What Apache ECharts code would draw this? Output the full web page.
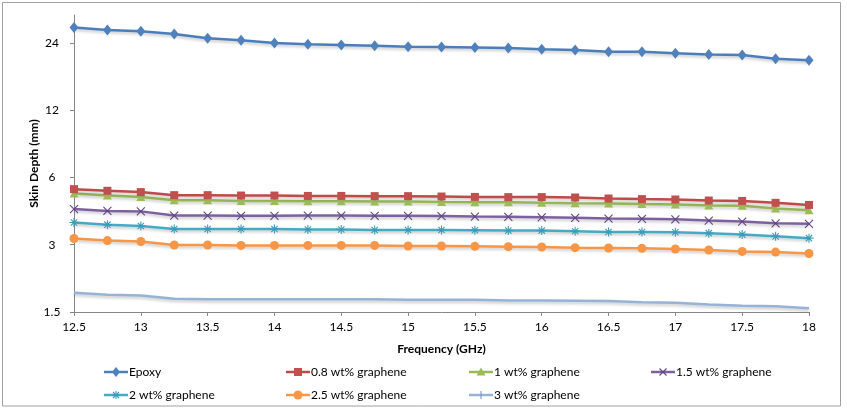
<!DOCTYPE html>
<html>
<head>
<meta charset="utf-8">
<script src="https://cdn.jsdelivr.net/npm/echarts@6/dist/echarts.min.js"></script>
<style>html,body{margin:0;padding:0;background:#fff}#c{width:847px;height:414px}</style>
</head>
<body>
<div id="c"></div>
<script>
var frequencies = [12.5,12.75,13,13.25,13.5,13.75,14,14.25,14.5,14.75,15,15.25,15.5,15.75,16,16.25,16.5,16.75,17,17.25,17.5,17.75,18];
var xTicks = [12.5,13,13.5,14,14.5,15,15.5,16,16.5,17,17.5,18];
var yTicks = [1.5,3,6,12,24];
var seriesNames = ['Epoxy','0.8 wt% graphene','1 wt% graphene','1.5 wt% graphene','2 wt% graphene','2.5 wt% graphene','3 wt% graphene'];
var epoxy = [28.1,27.4,27.1,26.3,25.2,24.7,24.0,23.7,23.5,23.3,23.1,23.0,22.9,22.8,22.5,22.3,21.9,21.9,21.6,21.3,21.2,20.4,20.1];
var g08 = [5.32,5.23,5.16,5.00,5.00,4.98,4.98,4.96,4.96,4.95,4.95,4.93,4.91,4.90,4.90,4.88,4.83,4.80,4.78,4.73,4.71,4.62,4.52];
var g1 = [5.09,4.98,4.91,4.75,4.75,4.71,4.71,4.70,4.70,4.68,4.68,4.66,4.65,4.65,4.62,4.60,4.59,4.56,4.54,4.49,4.48,4.36,4.28];
var g15 = [4.33,4.25,4.23,4.05,4.05,4.04,4.04,4.05,4.05,4.04,4.04,4.03,4.01,4.00,3.98,3.96,3.93,3.92,3.90,3.85,3.81,3.74,3.72];
var g2 = [3.77,3.69,3.64,3.53,3.53,3.53,3.53,3.51,3.51,3.49,3.49,3.49,3.48,3.47,3.47,3.45,3.42,3.42,3.41,3.38,3.33,3.27,3.21];
var g25 = [3.20,3.13,3.10,2.99,2.99,2.98,2.98,2.98,2.98,2.98,2.96,2.96,2.95,2.94,2.93,2.91,2.90,2.89,2.87,2.84,2.80,2.78,2.74];
var g3 = [1.83,1.79,1.78,1.72,1.71,1.71,1.71,1.71,1.71,1.71,1.70,1.70,1.70,1.69,1.69,1.685,1.68,1.66,1.65,1.62,1.60,1.59,1.56];

var allData = [epoxy,g08,g1,g15,g2,g25,g3];
var lineColors = ['#4A7EBB','#BE4B48','#98B954','#7D60A0','#46AAC5','#F79646','#95B3D7'];
var markColors = ['#4F81BD','#C0504D','#9BBB59','#5F4680','#3A9CB8','#F79646','#7894C0'];
var symbols = ['diamond','rect','triangle',
  'path://M0,0L10,10M10,0L0,10',
  'path://M0,5L10,5M5,0L5,10M1.5,1.5L8.5,8.5M8.5,1.5L1.5,8.5',
  'circle',
  'path://M5,0L5,10'];
var sizes = [[9,11],8,[9,8],8,9,9,[2,9]];
var strokeOnly = [false,false,false,true,true,false,true];

var font = 'Lato, "Liberation Sans", sans-serif';
var series = allData.map(function(d,i){
  return {
    name: seriesNames[i],
    type: 'line',
    data: frequencies.map(function(f,j){return [f,d[j]];}),
    symbol: symbols[i],
    symbolSize: sizes[i],
    showSymbol: true,
    lineStyle: {color: lineColors[i], width: 2.5, shadowColor:'rgba(0,0,0,0.22)', shadowBlur:3, shadowOffsetY:2},
    itemStyle: strokeOnly[i] ? {color: 'rgba(0,0,0,0)', borderColor: markColors[i], borderWidth: 1.1} : {color: markColors[i], borderWidth: 0},
    emphasis: {disabled: true},
    animation: false,
    z: 10 - i
  };
});

// legend drawn as graphic elements (layout of the legend box only)
var legendCols = [104,286,469,651];
var legendRows = [372,395];
function seg(x1,y1,x2,y2,c){ return {type:'line', shape:{x1:x1,y1:y1,x2:x2,y2:y2}, style:{stroke:c, lineWidth:1.1}}; }
function legendSymbol(i, cx, cy){
  var c = markColors[i];
  switch(i){
    case 0: return [{type:'polygon', shape:{points:[[cx,cy-5],[cx+4,cy],[cx,cy+5],[cx-4,cy]]}, style:{fill:c}}];
    case 1: return [{type:'rect', shape:{x:cx-4,y:cy-4,width:8,height:8}, style:{fill:c}}];
    case 2: return [{type:'polygon', shape:{points:[[cx,cy-4.5],[cx+4.5,cy+3.5],[cx-4.5,cy+3.5]]}, style:{fill:c}}];
    case 3: return [seg(cx-3.5,cy-3.5,cx+3.5,cy+3.5,c), seg(cx+3.5,cy-3.5,cx-3.5,cy+3.5,c)];
    case 4: return [seg(cx-4,cy,cx+4,cy,c), seg(cx,cy-4,cx,cy+4,c), seg(cx-3,cy-3,cx+3,cy+3,c), seg(cx+3,cy-3,cx-3,cy+3,c)];
    case 5: return [{type:'circle', shape:{cx:cx,cy:cy,r:4.5}, style:{fill:c}}];
    default: return [seg(cx,cy-4,cx,cy+4,c)];
  }
}
var legendGraphics = [];
seriesNames.forEach(function(n,i){
  var x0 = legendCols[i % 4], y0 = legendRows[Math.floor(i / 4)];
  legendGraphics.push({type:'line', shape:{x1:x0,y1:y0,x2:x0+24,y2:y0}, style:{stroke:lineColors[i], lineWidth:2.5}, silent:true, z:100});
  legendSymbol(i, x0+12, y0).forEach(function(s){ s.silent = true; s.z = 101; legendGraphics.push(s); });
  legendGraphics.push({type:'text', x:x0+25, y:y0, style:{text:n, fill:'#000', font:'12px ' + font, verticalAlign:'middle', align:'left'}, silent:true, z:100});
});

var chart = echarts.init(document.getElementById('c'), null, {renderer: 'canvas'});
chart.setOption({
  backgroundColor: '#fff',
  animation: false,
  textStyle: {fontFamily: font},
  graphic: [{type:'rect', shape:{x:2.5,y:2.5,width:838,height:403.5}, style:{fill:'none', stroke:'#a0a0a0', lineWidth:1}, silent:true}].concat(legendGraphics),
  grid: {left: 74, right: 38, top: 15, bottom: 102},
  xAxis: {
    type: 'value', min: 12.5, max: 18, interval: 0.5,
    name: 'Frequency (GHz)', nameLocation: 'middle', nameGap: 31,
    nameTextStyle: {fontFamily: font, fontSize: 12, fontWeight: 'bold', color: '#000'},
    axisLine: {show: true, lineStyle: {color: '#868686', width: 1}},
    axisTick: {show: true, length: 4, inside: false, lineStyle: {color: '#868686'}, customValues: xTicks},
    axisLabel: {fontFamily: font, fontSize: 12, color: '#000', margin: 9, customValues: xTicks, formatter: function(v){return String(v);}},
    splitLine: {show: false}
  },
  yAxis: {
    type: 'log', logBase: 2, min: 1.5, max: 32,
    name: 'Skin Depth (mm)', nameLocation: 'middle', nameGap: 34, nameRotate: 90, nameMoveOverlap: false,
    nameTextStyle: {fontFamily: font, fontSize: 12, fontWeight: 'bold', color: '#000'},
    axisLine: {show: true, lineStyle: {color: '#868686', width: 1}},
    axisTick: {show: true, length: 4, lineStyle: {color: '#868686'}, customValues: yTicks},
    axisLabel: {fontFamily: font, fontSize: 12, color: '#000', margin: 22, align: 'center', customValues: yTicks, formatter: function(v){return String(Math.round(v*10)/10);}},
    splitLine: {show: false}
  },
  series: series
});
</script>
</body>
</html>
